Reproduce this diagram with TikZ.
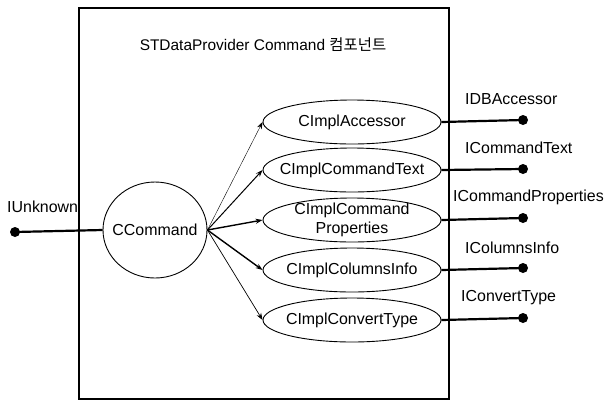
\documentclass[tikz,border=0pt]{standalone}
\usepackage{fontspec}
\setmainfont{Liberation Sans}
\newfontfamily\krfont{Noto Sans CJK KR}
\usetikzlibrary{shapes.geometric,arrows.meta}
\begin{document}
\begin{tikzpicture}[x=1bp,y=-1bp,
  font=\fontsize{16}{19}\selectfont,
  comp/.style={draw,line width=0.9bp,ellipse,inner sep=0pt,minimum width=178bp,minimum height=44bp},
  dotnode/.style={circle,fill=black,inner sep=0pt,minimum size=10bp},
  iface/.style={line width=2.2bp},
  lbl/.style={anchor=west,inner sep=0pt},
  arr/.style={-{Stealth[length=7bp,width=5bp]}}
]
\useasboundingbox (0,0) rectangle (604,401);
\node[draw,line width=1.1bp,minimum width=370bp,minimum height=391bp,inner sep=0pt] (box) at (264,203.5) {};
\node[font=\fontsize{15.5}{19}\selectfont] (title) at (263,45) {STDataProvider Command {\krfont 컴포넌트}};

\node[draw,line width=0.9bp,ellipse,minimum width=104bp,minimum height=96bp,inner sep=0pt,label={center:CCommand}] (cc) at (155,230) {};

\node[comp,label={center:CImplAccessor}] (e1) at (352,122) {};
\node[comp,label={center:CImplCommandText}] (e2) at (352,170) {};
\node[comp,label={[align=center]center:CImplCommand\\Properties}] (e3) at (352,220) {};
\node[comp,label={center:CImplColumnsInfo}] (e4) at (352,270) {};
\node[comp,label={center:CImplConvertType}] (e5) at (352,320) {};

\node[dotnode] (d1) at (523,120) {};
\node[dotnode] (d2) at (523,169) {};
\node[dotnode] (d3) at (523,218) {};
\node[dotnode] (d4) at (523,268) {};
\node[dotnode] (d5) at (523,318) {};
\node[dotnode] (d0) at (15,232) {};

\node[lbl] (l1) at (465,99) {IDBAccessor};
\node[lbl] (l2) at (465,148) {ICommandText};
\node[lbl] (l3) at (453,197) {ICommandProperties};
\node[lbl] (l4) at (465,248) {IColumnsInfo};
\node[lbl] (l5) at (461,298) {IConvertType};
\node[lbl] (l0) at (7,207) {IUnknown};

\draw[iface] (d0.center) -- (cc.west);
\draw[iface] (e1.east) -- (d1.center);
\draw[iface] (e2.east) -- (d2.center);
\draw[iface] (e3.east) -- (d3.center);
\draw[iface] (e4.east) -- (d4.center);
\draw[iface] (e5.east) -- (d5.center);

\draw[arr,line width=0.4bp] (cc.east) -- (e1.west);
\draw[arr,line width=1bp] (cc.east) -- (e2.west);
\draw[arr,line width=1.4bp] (cc.east) -- (e3.west);
\draw[arr,line width=1.4bp] (cc.east) -- (e4.west);
\draw[arr,line width=0.7bp] (cc.east) -- (e5.west);
\end{tikzpicture}
\end{document}
